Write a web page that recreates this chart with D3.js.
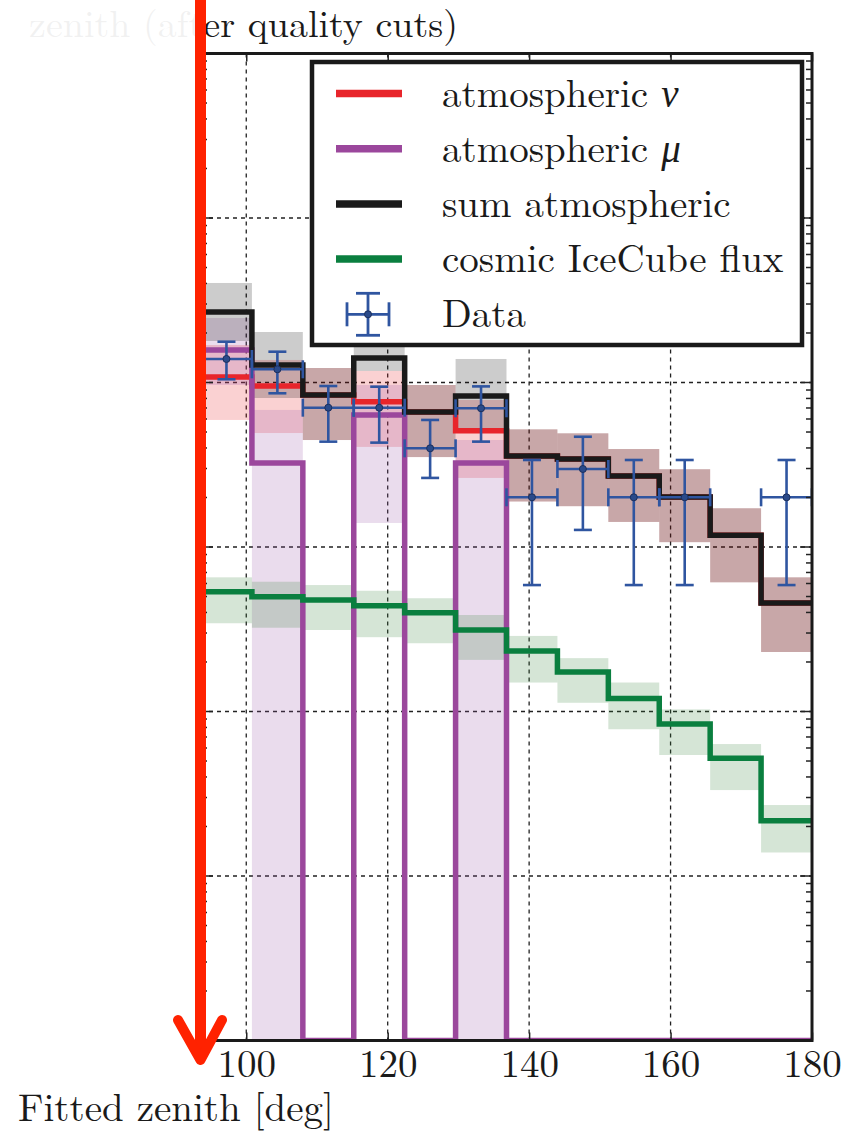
<!DOCTYPE html>
<html>
<head>
<meta charset="utf-8">
<script src="https://cdn.jsdelivr.net/npm/d3@7"></script>
<style>
  body { margin: 0; background: #fff; }
</style>
</head>
<body>
<div id="chart"></div>
<script>
// zenith bins (deg)
const binEdges = [93.6, 100.8, 108, 115.2, 122.4, 129.6, 136.8, 144, 151.2, 158.4, 165.6, 172.8, 180];
const xTicks = [100, 120, 140, 160, 180];

// atmospheric nu
const atmNu   = [108, 95.2, 83.9, 76.4, 66.2, 50.9, 35.7, 34.3, 27.0, 20.1, 11.8, 4.57];
const atmNuLo = [59.2, 49.3, 44.7, 40.6, 35.2, 26.3, 18.9, 17.7, 14.2, 10.7, 6.10, 2.30];
const atmNuHi = [169.0, 137.1, 122.5, 117.5, 96.6, 78.3, 51.9, 49.1, 39.4, 29.7, 17.2, 6.54];

// atmospheric mu (0 = empty bin)
const atmMu   = [157.6, 32.4, 0, 63.4, 0, 32.4, 0, 0, 0, 0, 0, 0];
const atmMuLo = [96.6, 0, 0, 14.0, 0, 0, 0, 0, 0, 0, 0, 0];
const atmMuHi = [246.7, 68.1, 0, 96.6, 0, 44.7, 0, 0, 0, 0, 0, 0];

// sum atmospheric
const sumAtm   = [268, 127.8, 83.9, 140.9, 66.2, 82.8, 35.7, 34.3, 27.0, 20.1, 11.8, 4.57];
const sumAtmLo = [178.8, 80.5, 44.7, 117.5, 35.2, 49.3, 18.9, 17.7, 14.2, 10.7, 6.10, 2.30];
const sumAtmHi = [402.7, 202.8, 122.5, 169.0, 96.6, 139.0, 51.9, 49.1, 39.4, 29.7, 17.2, 6.54];

// cosmic IceCube flux
const cosmic   = [5.35, 4.99, 4.76, 4.40, 3.99, 3.13, 2.33, 1.74, 1.20, 0.84, 0.52, 0.217];
const cosmicLo = [3.44, 3.23, 3.13, 2.83, 2.60, 2.06, 1.50, 1.13, 0.78, 0.544, 0.333, 0.139];
const cosmicHi = [6.54, 6.15, 5.87, 5.42, 4.88, 3.86, 2.88, 2.11, 1.50, 1.03, 0.634, 0.270];

// data points (null = no event)
const dataVal = [139.0, 120.3, 70.3, 70.3, 39.8, 69.7, 20.05, 29.8, 20.05, 20.05, null, 20.05];
const dataLo  = [104.6, 86.0, 43.7, 43.1, 26.3, 43.7, 5.87, 12.7, 5.87, 5.87, null, 5.87];
const dataHi  = [177.0, 153.9, 95.2, 94.3, 59.2, 94.7, 33.8, 46.8, 33.8, 33.8, null, 33.8];

const FONT = '"Latin Modern Roman", "Liberation Serif", serif';
const GREEK = '"Liberation Serif", serif';

const W = 847, H = 1134;
const svg = d3.select("#chart")
  .append("svg")
  .attr("width", W)
  .attr("height", H);

const x = d3.scaleLinear().domain([93.6, 180]).range([201, 812]);
const y = d3.scaleLog().domain([1e-2, 1e4]).range([1040.5, 53.5]);
const yv = v => y(Math.max(v, 1e-2));

const pLeft = x.range()[0], pRight = x.range()[1];
const pTop = y.range()[1], pBottom = y.range()[0];

svg.append("clipPath").attr("id", "plot-clip")
  .append("rect")
  .attr("x", pLeft).attr("y", pTop)
  .attr("width", pRight - pLeft).attr("height", pBottom - pTop);

const isDecade = t => Math.abs(Math.log10(t) - Math.round(Math.log10(t))) < 1e-9;

// grid
const grid = svg.append("g").attr("stroke", "#222").attr("stroke-width", 1.3)
  .attr("stroke-dasharray", "4,4");
xTicks.filter(t => t < 180).forEach(t => {
  grid.append("line").attr("x1", x(t)).attr("x2", x(t)).attr("y1", pTop).attr("y2", pBottom);
});
y.ticks().filter(isDecade).filter(t => t > 1e-2 && t < 1e4).forEach(t => {
  grid.append("line").attr("x1", pLeft).attr("x2", pRight).attr("y1", y(t)).attr("y2", y(t));
});

const plot = svg.append("g").attr("clip-path", "url(#plot-clip)");

// uncertainty bands
function bands(lo, hi, color) {
  const g = plot.append("g").attr("fill", color).attr("fill-opacity", 0.2);
  hi.forEach((h, i) => {
    if (!h) return;
    g.append("rect")
      .attr("x", x(binEdges[i]))
      .attr("width", x(binEdges[i + 1]) - x(binEdges[i]))
      .attr("y", yv(h))
      .attr("height", yv(lo[i]) - yv(h));
  });
}
bands(atmNuLo, atmNuHi, "#e41a1c");
bands(atmMuLo, atmMuHi, "#984ea3");
bands(sumAtmLo, sumAtmHi, "#000");
bands(cosmicLo, cosmicHi, "#2e7d32");

// step lines
const stepLine = d3.line()
  .x(d => x(d[0]))
  .y(d => yv(d[1]))
  .curve(d3.curveStepAfter);

function steps(vals, color) {
  const pts = vals.map((v, i) => [binEdges[i], v]);
  pts.push([binEdges[binEdges.length - 1], vals[vals.length - 1]]);
  plot.append("path")
    .attr("d", stepLine(pts))
    .attr("fill", "none")
    .attr("stroke", color)
    .attr("stroke-width", 5.5);
}
steps(atmNu, "#e8252b");
steps(atmMu, "#9b479c");
steps(sumAtm, "#1a1a1a");
steps(cosmic, "#0a7f3f");

// data with error bars
const blue = "#2f55a0";
const eb = plot.append("g").attr("stroke", blue).attr("stroke-width", 2.6);
dataVal.forEach((v, i) => {
  if (v == null) return;
  const x0 = x(binEdges[i]), x1 = x(binEdges[i + 1]), xc = (x0 + x1) / 2;
  const yc = yv(v), yh = yv(dataHi[i]), yl = yv(dataLo[i]);
  eb.append("line").attr("x1", xc).attr("x2", xc).attr("y1", yh).attr("y2", yl);
  eb.append("line").attr("x1", x0).attr("x2", x1).attr("y1", yc).attr("y2", yc);
  [yh, yl].forEach(yy => eb.append("line").attr("x1", xc - 9).attr("x2", xc + 9).attr("y1", yy).attr("y2", yy));
  [x0, x1].forEach(xx => eb.append("line").attr("x1", xx).attr("x2", xx).attr("y1", yc - 9).attr("y2", yc + 9));
  eb.append("circle").attr("cx", xc).attr("cy", yc).attr("r", 3.5)
    .attr("fill", "#2a4a8a").attr("stroke", "#1c2f5c").attr("stroke-width", 1);
});

// axes
const xBottom = svg.append("g")
  .attr("transform", `translate(0,${pBottom})`)
  .call(d3.axisBottom(x).tickValues(xTicks).tickSizeInner(-8).tickSizeOuter(0).tickPadding(9));
xBottom.select(".domain").remove();
xBottom.selectAll("line").attr("stroke", "#222").attr("stroke-width", 1.5);
xBottom.selectAll("text")
  .style("font-family", FONT).style("font-size", "39px").style("fill", "#1a1a1a");

const xTop = svg.append("g")
  .attr("transform", `translate(0,${pTop})`)
  .call(d3.axisTop(x).tickValues(xTicks).tickSizeInner(-8).tickSizeOuter(0).tickFormat(""));
xTop.select(".domain").remove();
xTop.selectAll("line").attr("stroke", "#222").attr("stroke-width", 1.5);

[[pRight, -1], [pLeft, 1]].forEach(([sx, dir]) => {
  const g = svg.append("g").attr("stroke", "#222").attr("stroke-width", 1.5);
  y.ticks().forEach(t => {
    const len = isDecade(t) ? 12 : 6;
    g.append("line").attr("x1", sx).attr("x2", sx + dir * len).attr("y1", y(t)).attr("y2", y(t));
  });
});

// spines
svg.append("rect")
  .attr("x", pLeft).attr("y", pTop)
  .attr("width", pRight - pLeft).attr("height", pBottom - pTop)
  .attr("fill", "none").attr("stroke", "#1a1a1a").attr("stroke-width", 3);

// legend
const legendItems = [
  { label: "atmospheric ", greek: "ν", color: "#e8252b" },
  { label: "atmospheric ", greek: "μ", color: "#9b479c" },
  { label: "sum atmospheric", greek: "", color: "#1a1a1a" },
  { label: "cosmic IceCube flux", greek: "", color: "#0a7f3f" },
  { label: "Data", greek: "", color: null }
];
const lg = svg.append("g");
lg.append("rect")
  .attr("x", 312).attr("y", 62).attr("width", 490).attr("height", 283)
  .attr("fill", "#fff").attr("stroke", "#1a1a1a").attr("stroke-width", 4.5);
legendItems.forEach((d, i) => {
  const cy = 93.5 + i * 55.2;
  if (d.color) {
    lg.append("line").attr("x1", 336).attr("x2", 402).attr("y1", cy).attr("y2", cy)
      .attr("stroke", d.color).attr("stroke-width", 7.5);
  } else {
    const g = lg.append("g").attr("stroke", blue).attr("stroke-width", 2.8);
    g.append("line").attr("x1", 368).attr("x2", 368).attr("y1", cy - 21).attr("y2", cy + 21);
    g.append("line").attr("x1", 347).attr("x2", 389).attr("y1", cy).attr("y2", cy);
    g.append("line").attr("x1", 356).attr("x2", 380).attr("y1", cy - 21).attr("y2", cy - 21);
    g.append("line").attr("x1", 356).attr("x2", 380).attr("y1", cy + 21).attr("y2", cy + 21);
    g.append("line").attr("x1", 347).attr("x2", 347).attr("y1", cy - 12).attr("y2", cy + 12);
    g.append("line").attr("x1", 389).attr("x2", 389).attr("y1", cy - 12).attr("y2", cy + 12);
    g.append("circle").attr("cx", 368).attr("cy", cy).attr("r", 3.5)
      .attr("fill", "#2a4a8a").attr("stroke", "#1c2f5c").attr("stroke-width", 1);
  }
  const t = lg.append("text").attr("x", 442).attr("y", cy + 13)
    .style("font-family", FONT).style("font-size", "39px").style("fill", "#1a1a1a");
  t.append("tspan").text(d.label);
  if (d.greek) t.append("tspan").style("font-family", GREEK).style("font-style", "italic").text(d.greek);
});

// titles
svg.append("text")
  .attr("x", 458).attr("y", 37)
  .attr("text-anchor", "end")
  .style("font-family", FONT).style("font-size", "38px").style("fill", "#1a1a1a")
  .text("zenith (after quality cuts)");
// faded left part of the title (cropped screenshot)
svg.append("rect").attr("x", 0).attr("y", 0).attr("width", 196).attr("height", 50)
  .attr("fill", "#fff").attr("opacity", 0.94);

svg.append("text")
  .attr("x", 18).attr("y", 1121)
  .style("font-family", FONT).style("font-size", "39px").style("fill", "#1a1a1a")
  .text("Fitted zenith [deg]");

// red arrow annotation
const arrow = svg.append("g").attr("stroke", "#ff2200").attr("fill", "none")
  .attr("stroke-linecap", "round").attr("stroke-linejoin", "round");
arrow.append("line").attr("x1", 200.5).attr("x2", 200.5).attr("y1", -10).attr("y2", 1058)
  .attr("stroke-width", 11).attr("stroke-linecap", "butt");
arrow.append("path").attr("d", "M178,1020 L200.5,1060 L222,1020").attr("stroke-width", 10);
</script>
</body>
</html>
